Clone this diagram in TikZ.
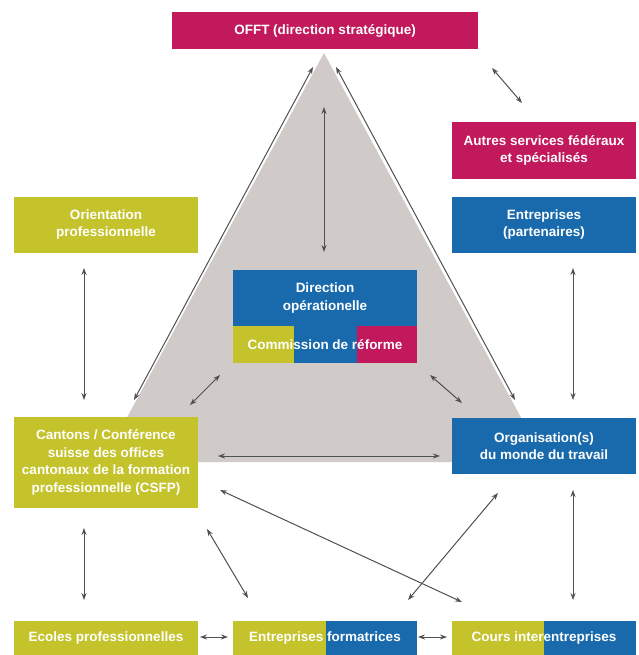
\documentclass[tikz,border=0pt]{standalone}
\usepackage{fontspec}
\setmainfont{Liberation Sans}
\usetikzlibrary{arrows.meta}
\definecolor{mag}{RGB}{194,24,92}
\definecolor{blu}{RGB}{25,106,172}
\definecolor{oli}{RGB}{197,195,44}
\definecolor{tri}{RGB}{208,202,200}
\definecolor{arr}{RGB}{80,80,80}
\begin{document}
\begin{tikzpicture}[x=1pt,y=-1pt,
  box/.style={inner sep=0pt, outer sep=0pt, text=white, font=\bfseries\fontsize{13.5}{17.5}\selectfont,
    align=center, minimum width=184pt, minimum height=56pt},
  link/.style={draw=arr, line width=1pt, {Stealth[length=7pt,width=5pt]}-{Stealth[length=7pt,width=5pt]}}]
\useasboundingbox (0,0) rectangle (638,655);
% triangle
\coordinate (apex) at (324,53);
\coordinate (bl) at (103,462);
\coordinate (br) at (545,462);
\fill[tri] (apex) -- (bl) -- (br) -- cycle;
% boxes
\node[box, fill=mag, minimum width=306pt, minimum height=37pt] (offt) at (325,30.5) {OFFT (direction stratégique)};
\node[box, fill=mag] (autres) at (544,150.5) {Autres services fédéraux\\et spécialisés};
\node[box, fill=blu] (partn) at (544,224.5) {Entreprises\\(partenaires)};
\node[box, fill=oli] (orient) at (106,224.5) {Orientation\\professionnelle};
\node[box, fill=blu] (dir) at (325,298) {Direction\\opérationelle};
\node[box, fill=blu, minimum height=37pt,
  path picture={
    \fill[oli] (path picture bounding box.north west) rectangle ([xshift=61pt]path picture bounding box.south west);
    \fill[mag] ([xshift=-60pt]path picture bounding box.north east) rectangle (path picture bounding box.south east);}]
  (comm) at (325,344.5) {Commission de réforme};
\node[box, fill=oli, minimum height=91pt] (cantons) at (106,462.5) {Cantons / Conférence\\suisse des offices\\cantonaux de la formation\\professionnelle (CSFP)};
\node[box, fill=blu] (orga) at (544,446) {Organisation(s)\\du monde du travail};
\node[box, fill=oli, minimum height=34pt] (ecoles) at (106,638) {Ecoles professionnelles};
\node[box, fill=oli, minimum height=34pt,
  path picture={\fill[blu] ([xshift=93pt]path picture bounding box.north west) rectangle (path picture bounding box.south east);}]
  (entf) at (325,638) {Entreprises formatrices};
\node[box, fill=oli, minimum height=34pt,
  path picture={\fill[blu] ([xshift=92pt]path picture bounding box.north west) rectangle (path picture bounding box.south east);}]
  (cours) at (544,638) {Cours interentreprises};
% arrow end points
\coordinate (eLa) at (313,67);  \coordinate (eLb) at (134,400);
\coordinate (eRa) at (336,67);  \coordinate (eRb) at (515,400);
\coordinate (vCa) at (324,107); \coordinate (vCb) at (324,252);
\coordinate (oaa) at (492,68);  \coordinate (oab) at (522,103);
\coordinate (vLa) at (84,268);  \coordinate (vLb) at (84,400);
\coordinate (vRa) at (573,268); \coordinate (vRb) at (573,400);
\coordinate (dLa) at (190,405); \coordinate (dLb) at (220,375);
\coordinate (dRa) at (430,375); \coordinate (dRb) at (462,403);
\coordinate (ha) at (218,456);  \coordinate (hb) at (440,456);
\coordinate (wLa) at (84,528);  \coordinate (wLb) at (84,600);
\coordinate (wRa) at (573,490); \coordinate (wRb) at (573,600);
\coordinate (lga) at (220,490); \coordinate (lgb) at (462,602);
\coordinate (cra) at (498,493); \coordinate (crb) at (408,600);
\coordinate (sha) at (207,529); \coordinate (shb) at (248,598);
\coordinate (b1a) at (200,637); \coordinate (b1b) at (228,637);
\coordinate (b2a) at (418,637); \coordinate (b2b) at (447,637);
% connectors
\draw[link] (eLa) -- (eLb);
\draw[link] (eRa) -- (eRb);
\draw[link] (vCa) -- (vCb);
\draw[link] (oaa) -- (oab);
\draw[link] (vLa) -- (vLb);
\draw[link] (vRa) -- (vRb);
\draw[link] (dLa) -- (dLb);
\draw[link] (dRa) -- (dRb);
\draw[link] (ha) -- (hb);
\draw[link] (wLa) -- (wLb);
\draw[link] (wRa) -- (wRb);
\draw[link] (lga) -- (lgb);
\draw[link] (cra) -- (crb);
\draw[link] (sha) -- (shb);
\draw[link] (b1a) -- (b1b);
\draw[link] (b2a) -- (b2b);
\end{tikzpicture}
\end{document}
